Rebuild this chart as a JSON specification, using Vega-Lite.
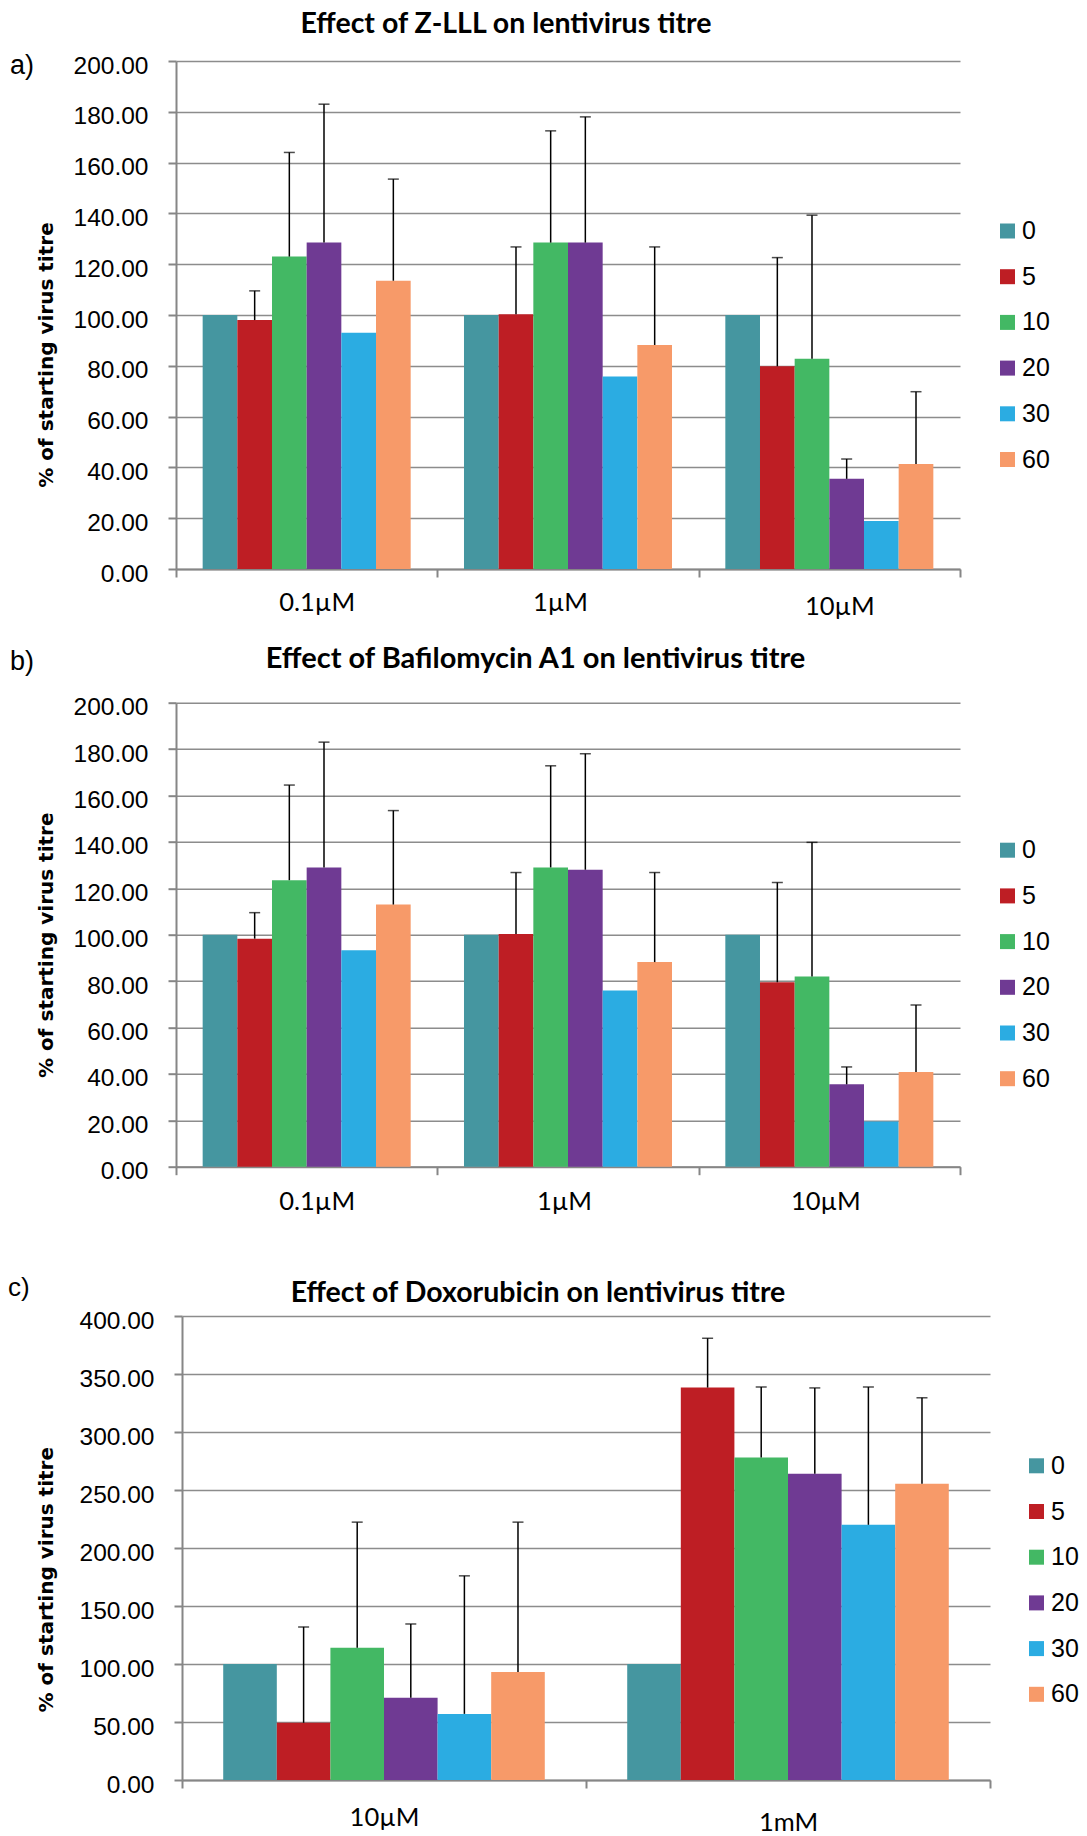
{
  "$schema": "https://vega.github.io/schema/vega-lite/v6.json",
  "padding": {"left": 7, "top": 9, "right": 0, "bottom": 0},
  "config": {
    "view": {"stroke": null},
    "font": "Liberation Sans",
    "axis": {"labelFlush": false, "labelOverlap": false, "labelColor": "#000000", "titleColor": "#000000"},
    "legend": {"labelColor": "#000000"}
  },
  "datasets": {
    "d": [
      {"p": "a", "conc": "0.1µM", "t": "0", "v": 100, "u": null},
      {"p": "a", "conc": "0.1µM", "t": "5", "v": 98, "u": 109.5},
      {"p": "a", "conc": "0.1µM", "t": "10", "v": 123, "u": 164},
      {"p": "a", "conc": "0.1µM", "t": "20", "v": 128.5, "u": 183},
      {"p": "a", "conc": "0.1µM", "t": "30", "v": 93, "u": null},
      {"p": "a", "conc": "0.1µM", "t": "60", "v": 113.5, "u": 153.5},
      {"p": "a", "conc": "1µM", "t": "0", "v": 100, "u": null},
      {"p": "a", "conc": "1µM", "t": "5", "v": 100.3, "u": 126.8},
      {"p": "a", "conc": "1µM", "t": "10", "v": 128.5, "u": 172.5},
      {"p": "a", "conc": "1µM", "t": "20", "v": 128.5, "u": 178},
      {"p": "a", "conc": "1µM", "t": "30", "v": 75.8, "u": null},
      {"p": "a", "conc": "1µM", "t": "60", "v": 88.2, "u": 126.8},
      {"p": "a", "conc": "10µM", "t": "0", "v": 100, "u": null},
      {"p": "a", "conc": "10µM", "t": "5", "v": 79.8, "u": 122.6},
      {"p": "a", "conc": "10µM", "t": "10", "v": 82.8, "u": 139.3},
      {"p": "a", "conc": "10µM", "t": "20", "v": 35.5, "u": 43.3},
      {"p": "a", "conc": "10µM", "t": "30", "v": 18.9, "u": null},
      {"p": "a", "conc": "10µM", "t": "60", "v": 41.3, "u": 69.8},
      {"p": "b", "conc": "0.1µM", "t": "0", "v": 100, "u": null},
      {"p": "b", "conc": "0.1µM", "t": "5", "v": 98.3, "u": 109.5},
      {"p": "b", "conc": "0.1µM", "t": "10", "v": 123.5, "u": 164.5},
      {"p": "b", "conc": "0.1µM", "t": "20", "v": 129, "u": 183},
      {"p": "b", "conc": "0.1µM", "t": "30", "v": 93.3, "u": null},
      {"p": "b", "conc": "0.1µM", "t": "60", "v": 113, "u": 153.5},
      {"p": "b", "conc": "1µM", "t": "0", "v": 100, "u": null},
      {"p": "b", "conc": "1µM", "t": "5", "v": 100.3, "u": 126.8},
      {"p": "b", "conc": "1µM", "t": "10", "v": 129, "u": 172.8},
      {"p": "b", "conc": "1µM", "t": "20", "v": 128, "u": 178},
      {"p": "b", "conc": "1µM", "t": "30", "v": 76, "u": null},
      {"p": "b", "conc": "1µM", "t": "60", "v": 88.2, "u": 126.8},
      {"p": "b", "conc": "10µM", "t": "0", "v": 100, "u": null},
      {"p": "b", "conc": "10µM", "t": "5", "v": 79.5, "u": 122.5},
      {"p": "b", "conc": "10µM", "t": "10", "v": 82, "u": 139.8},
      {"p": "b", "conc": "10µM", "t": "20", "v": 35.5, "u": 43},
      {"p": "b", "conc": "10µM", "t": "30", "v": 19.5, "u": null},
      {"p": "b", "conc": "10µM", "t": "60", "v": 40.8, "u": 69.7},
      {"p": "c", "conc": "10µM", "t": "0", "v": 100, "u": null},
      {"p": "c", "conc": "10µM", "t": "5", "v": 49.3, "u": 132},
      {"p": "c", "conc": "10µM", "t": "10", "v": 114, "u": 222.3},
      {"p": "c", "conc": "10µM", "t": "20", "v": 70.8, "u": 134.5},
      {"p": "c", "conc": "10µM", "t": "30", "v": 57, "u": 176},
      {"p": "c", "conc": "10µM", "t": "60", "v": 93.2, "u": 222.3},
      {"p": "c", "conc": "1mM", "t": "0", "v": 100, "u": null},
      {"p": "c", "conc": "1mM", "t": "5", "v": 338.3, "u": 380.8},
      {"p": "c", "conc": "1mM", "t": "10", "v": 278, "u": 338.8},
      {"p": "c", "conc": "1mM", "t": "20", "v": 264, "u": 338},
      {"p": "c", "conc": "1mM", "t": "30", "v": 220, "u": 338.8},
      {"p": "c", "conc": "1mM", "t": "60", "v": 255.3, "u": 329.5}
    ]
  },
  "resolve": {"scale": {"color": "independent", "xOffset": "independent"}, "legend": {"color": "independent"}},
  "spacing": 59,
  "vconcat": [
    {
      "resolve": {"scale": {"color": "independent", "xOffset": "independent"}, "legend": {"color": "independent"}},
      "spacing": 24.7,
      "vconcat": [
        {
          "title": {"text": "a)", "orient": "top", "anchor": "start", "frame": "bounds", "align": "left", "baseline": "alphabetic", "font": "Liberation Sans", "fontSize": 27, "fontWeight": "normal", "color": "#000000", "dx": -26.5, "dy": 91, "offset": 0},
          "vconcat": [
            {
              "width": 784,
              "height": 508,
              "title": {"text": "Effect of Z-LLL on lentivirus titre", "font": "Lato", "fontWeight": "bold", "fontSize": 28.5, "anchor": "middle", "frame": "group", "dx": -62, "offset": -8.1, "baseline": "alphabetic", "color": "#000000"},
              "data": {"name": "d"},
              "transform": [{"filter": "datum.p === 'a'"}],
              "encoding": {
                "x": {"field": "conc", "type": "nominal", "scale": {"domain": ["0.1µM", "1µM", "10µM"], "paddingInner": 0, "paddingOuter": 0},
                  "axis": {"title": null, "labelAngle": 0, "tickBand": "extent", "tickSize": 8, "tickWidth": 2, "tickColor": "#868686", "domainColor": "#868686", "domainWidth": 2, "labelFont": "Lato", "labelFontSize": 25.5,
                    "labelPadding": {"condition": {"test": "datum.value === '10µM'", "value": 17}, "value": 13},
                    "labelOffset": {"condition": {"test": "datum.value === '1µM'", "value": -8}, "value": 10}}},
                "xOffset": {"field": "t", "type": "nominal", "scale": {"domain": ["0", "5", "10", "20", "30", "60"], "paddingInner": 0, "paddingOuter": 0.769}},
                "y": {"field": "v", "type": "quantitative", "scale": {"domain": [0, 200]},
                  "axis": {"values": [0, 20, 40, 60, 80, 100, 120, 140, 160, 180, 200], "format": ".2f", "title": "% of starting virus titre", "titleFont": "DejaVu Sans", "titleFontWeight": "bold", "titleFontSize": 20, "titleX": -123.5, "titleY": 293.5, "titleAngle": -90, "titleAlign": "center", "titleBaseline": "alphabetic", "labelFont": "Liberation Sans", "labelFontSize": 24.5, "labelPadding": 20, "labelOffset": 5, "tickSize": 8, "tickWidth": 2, "tickColor": "#868686", "domainColor": "#868686", "domainWidth": 2, "gridColor": "#8c8c8c", "gridWidth": 1.5}}
              },
              "layer": [
                {
                  "mark": {"type": "bar"},
                  "encoding": {
                    "color": {"field": "t", "type": "nominal", "scale": {"domain": ["0", "5", "10", "20", "30", "60"], "range": ["#4596A0", "#BE1E24", "#43B864", "#6F3A93", "#2BACE2", "#F79A69"]},
                      "legend": {"orient": "none", "legendX": 819, "legendY": 157.5, "title": null, "symbolType": "square", "symbolSize": 225, "symbolStrokeWidth": 0, "labelFont": "Liberation Sans", "labelFontSize": 25, "rowPadding": 19.7, "labelOffset": 2, "padding": 0}}
                  }
                },
                {
                  "transform": [{"filter": "isValid(datum.u)"}],
                  "mark": {"type": "rule", "strokeWidth": 1.5, "color": "#000000"},
                  "encoding": {"y2": {"field": "u"}}
                },
                {
                  "transform": [{"filter": "isValid(datum.u)"}],
                  "mark": {"type": "tick", "size": 11, "thickness": 1.5, "color": "#000000"},
                  "encoding": {"y": {"field": "u", "type": "quantitative"}}
                }
              ]
            }
          ]
        },
        {
          "title": {"text": "b)", "orient": "top", "anchor": "start", "frame": "bounds", "align": "left", "baseline": "alphabetic", "font": "Liberation Sans", "fontSize": 27, "fontWeight": "normal", "color": "#000000", "dx": -26.5, "dy": 52, "offset": 0},
          "vconcat": [
            {
              "width": 784,
              "height": 464,
              "title": {"text": "Effect of Bafilomycin A1 on lentivirus titre", "font": "Lato", "fontWeight": "bold", "fontSize": 29, "anchor": "middle", "frame": "group", "dx": -32.5, "offset": -2.6, "baseline": "alphabetic", "color": "#000000"},
              "data": {"name": "d"},
              "transform": [{"filter": "datum.p === 'b'"}],
              "encoding": {
                "x": {"field": "conc", "type": "nominal", "scale": {"domain": ["0.1µM", "1µM", "10µM"], "paddingInner": 0, "paddingOuter": 0},
                  "axis": {"title": null, "labelAngle": 0, "tickBand": "extent", "tickSize": 8, "tickWidth": 2, "tickColor": "#868686", "domainColor": "#868686", "domainWidth": 2, "labelFont": "Lato", "labelFontSize": 25.5,
                    "labelPadding": 14.6,
                    "labelOffset": {"condition": {"test": "datum.value === '0.1µM'", "value": 10}, "value": -4}}},
                "xOffset": {"field": "t", "type": "nominal", "scale": {"domain": ["0", "5", "10", "20", "30", "60"], "paddingInner": 0, "paddingOuter": 0.769}},
                "y": {"field": "v", "type": "quantitative", "scale": {"domain": [0, 200]},
                  "axis": {"values": [0, 20, 40, 60, 80, 100, 120, 140, 160, 180, 200], "format": ".2f", "title": "% of starting virus titre", "titleFont": "DejaVu Sans", "titleFontWeight": "bold", "titleFontSize": 20, "titleX": -123.5, "titleY": 242, "titleAngle": -90, "titleAlign": "center", "titleBaseline": "alphabetic", "labelFont": "Liberation Sans", "labelFontSize": 24.5, "labelPadding": 20, "labelOffset": 5, "tickSize": 8, "tickWidth": 2, "tickColor": "#868686", "domainColor": "#868686", "domainWidth": 2, "gridColor": "#8c8c8c", "gridWidth": 1.5}}
              },
              "layer": [
                {
                  "mark": {"type": "bar"},
                  "encoding": {
                    "color": {"field": "t", "type": "nominal", "scale": {"domain": ["0", "5", "10", "20", "30", "60"], "range": ["#4596A0", "#BE1E24", "#43B864", "#6F3A93", "#2BACE2", "#F79A69"]},
                      "legend": {"orient": "none", "legendX": 819, "legendY": 135, "title": null, "symbolType": "square", "symbolSize": 225, "symbolStrokeWidth": 0, "labelFont": "Liberation Sans", "labelFontSize": 25, "rowPadding": 19.7, "labelOffset": 2, "padding": 0}}
                  }
                },
                {
                  "transform": [{"filter": "isValid(datum.u)"}],
                  "mark": {"type": "rule", "strokeWidth": 1.5, "color": "#000000"},
                  "encoding": {"y2": {"field": "u"}}
                },
                {
                  "transform": [{"filter": "isValid(datum.u)"}],
                  "mark": {"type": "tick", "size": 11, "thickness": 1.5, "color": "#000000"},
                  "encoding": {"y": {"field": "u", "type": "quantitative"}}
                }
              ]
            }
          ]
        }
      ]
    },
    {
      "title": {"text": "c)", "orient": "top", "anchor": "start", "frame": "bounds", "align": "left", "baseline": "alphabetic", "font": "Liberation Sans", "fontSize": 26, "fontWeight": "normal", "color": "#000000", "dx": -28.5, "dy": 43, "offset": 0},
      "vconcat": [
        {
          "width": 814,
          "height": 464,
          "title": {"text": "Effect of Doxorubicin on lentivirus titre", "font": "Lato", "fontWeight": "bold", "fontSize": 28.5, "anchor": "middle", "frame": "group", "dx": -45, "offset": -22.1, "baseline": "alphabetic", "color": "#000000"},
          "data": {"name": "d"},
          "transform": [{"filter": "datum.p === 'c'"}],
          "encoding": {
            "x": {"field": "conc", "type": "nominal", "scale": {"domain": ["10µM", "1mM"], "range": [6, 814], "paddingInner": 0, "paddingOuter": 0},
              "axis": {"title": null, "labelAngle": 0, "tickBand": "extent", "tickSize": 8, "tickWidth": 2, "tickColor": "#868686", "domainColor": "#868686", "domainWidth": 2, "labelFont": "Lato", "labelFontSize": 25.5,
                "labelPadding": {"condition": {"test": "datum.value === '1mM'", "value": 22.8}, "value": 17.8}}},
            "xOffset": {"field": "t", "type": "nominal", "scale": {"domain": ["0", "5", "10", "20", "30", "60"], "paddingInner": 0, "paddingOuter": 0.769}},
            "y": {"field": "v", "type": "quantitative", "scale": {"domain": [0, 400]},
              "axis": {"values": [0, 50, 100, 150, 200, 250, 300, 350, 400], "format": ".2f", "title": "% of starting virus titre", "titleFont": "DejaVu Sans", "titleFontWeight": "bold", "titleFontSize": 20, "titleX": -129.5, "titleY": 263.2, "titleAngle": -90, "titleAlign": "center", "titleBaseline": "alphabetic", "labelFont": "Liberation Sans", "labelFontSize": 24.5, "labelPadding": 20, "labelOffset": 5, "offset": -6, "tickSize": 8, "tickWidth": 2, "tickColor": "#868686", "domainColor": "#868686", "domainWidth": 2, "gridColor": "#8c8c8c", "gridWidth": 1.5}}
          },
          "layer": [
            {
              "mark": {"type": "bar"},
              "encoding": {
                "color": {"field": "t", "type": "nominal", "scale": {"domain": ["0", "5", "10", "20", "30", "60"], "range": ["#4596A0", "#BE1E24", "#43B864", "#6F3A93", "#2BACE2", "#F79A69"]},
                  "legend": {"orient": "none", "legendX": 848, "legendY": 137.3, "title": null, "symbolType": "square", "symbolSize": 225, "symbolStrokeWidth": 0, "labelFont": "Liberation Sans", "labelFontSize": 25, "rowPadding": 19.7, "labelOffset": 2, "padding": 0}}
              }
            },
            {
              "transform": [{"filter": "isValid(datum.u)"}],
              "mark": {"type": "rule", "strokeWidth": 1.5, "color": "#000000"},
              "encoding": {"y2": {"field": "u"}}
            },
            {
              "transform": [{"filter": "isValid(datum.u)"}],
              "mark": {"type": "tick", "size": 11, "thickness": 1.5, "color": "#000000"},
              "encoding": {"y": {"field": "u", "type": "quantitative"}}
            }
          ]
        }
      ]
    }
  ]
}
